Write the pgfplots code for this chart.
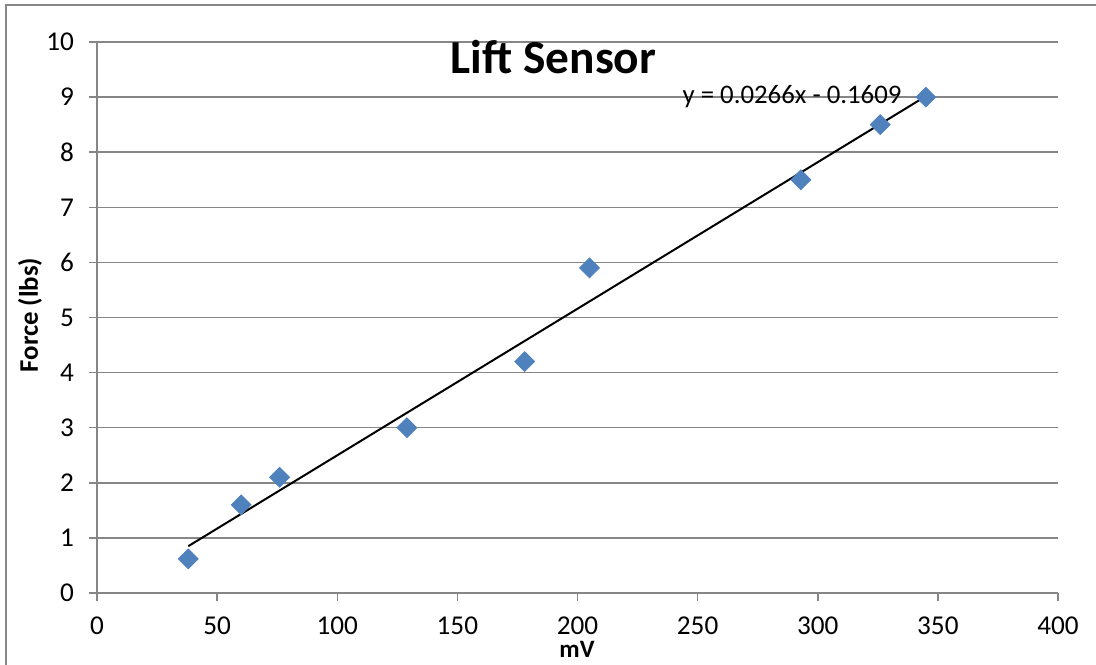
\documentclass[border=0pt]{standalone}
\usepackage{pgfplots}
\pgfplotsset{compat=1.18}
\usepackage{fontspec}
\setmainfont{Carlito}
\definecolor{gridgray}{RGB}{134,134,134}
\definecolor{markblue}{RGB}{79,129,189}
\begin{document}
\begin{tikzpicture}[x=1pt,y=1pt]
\useasboundingbox (-48.5,-35.5) rectangle (499.5,296.5);
\begin{axis}[
  at={(0,0)}, anchor=south west,
  scale only axis, width=480.5pt, height=275.5pt,
  xmin=0, xmax=400, ymin=0, ymax=10,
  xtick={0,50,...,400}, ytick={0,1,...,10},
  axis x line=bottom, axis y line=left,
  axis line style={gridgray, line width=0.75pt, -},
  ymajorgrids, grid style={gridgray, line width=0.75pt},
  tick align=outside, major tick length=4pt,
  tick style={gridgray, line width=0.75pt},
  ticklabel style={font=\fontsize{13.6}{16}\selectfont, black},
  xticklabel style={inner sep=0.5pt, yshift=-7pt},
  yticklabel style={xshift=-4pt},
  /pgf/number format/assume math mode=true,
  clip=false,
]
\addplot[black, line width=1pt] coordinates {(38,0.8499) (345,9.016)};
\addplot[only marks, mark=square*, mark size=3.5pt,
  mark options={rotate=45, fill=markblue, draw=markblue}]
  coordinates {(38,0.62) (60,1.6) (76,2.1) (129,3.0) (178,4.2) (205,5.9) (293,7.5) (326,8.5) (345,9.0)};
\node[font=\fontsize{23.7}{28}\selectfont\bfseries] at (axis cs:190,9.73) {Lift Sensor};
\node[font=\fontsize{13.4}{16}\selectfont] at (axis cs:289.3,9.0) {y = 0.0266x - 0.1609};
\end{axis}
\node[rotate=90, font=\fontsize{13.4}{16}\selectfont\bfseries] at (-33.5,139) {Force (lbs)};
\node[font=\fontsize{12.5}{15}\selectfont\bfseries, inner sep=0pt] at (240,-28) {mV};
\draw[gridgray, line width=0.75pt] (-45.5,-40) -- (-45.5,294) -- (510,294);
\end{tikzpicture}
\end{document}
